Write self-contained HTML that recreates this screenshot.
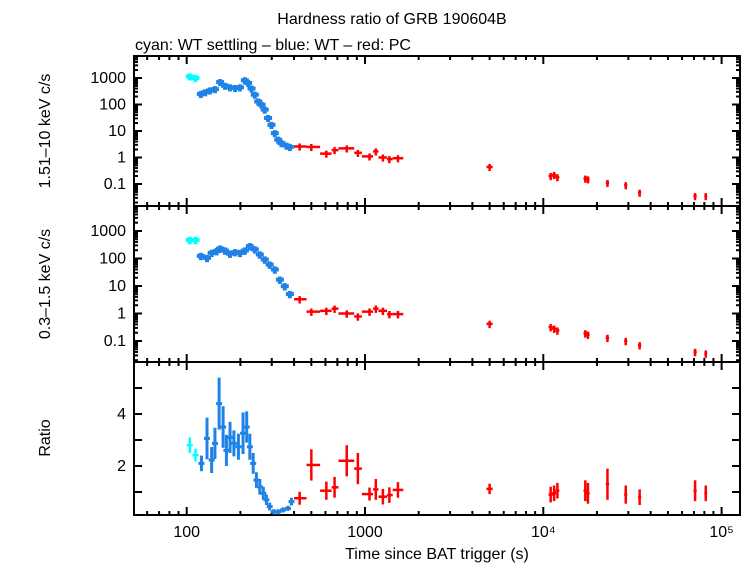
<!DOCTYPE html>
<html><head><meta charset="utf-8"><style>
body{margin:0;background:#fff;}
svg{display:block;font-family:"Liberation Sans",sans-serif;}
</style></head><body>
<svg id="c" width="752" height="566" xmlns="http://www.w3.org/2000/svg">
<text x="392" y="24" font-size="16" text-anchor="middle">Hardness ratio of GRB 190604B</text>
<text x="135" y="50" font-size="16">cyan: WT settling – blue: WT – red: PC</text>
<text transform="translate(50,131) rotate(-90)" font-size="16" text-anchor="middle">1.51–10 keV c/s</text>
<text transform="translate(50,284) rotate(-90)" font-size="16" text-anchor="middle">0.3–1.5 keV c/s</text>
<text transform="translate(50,438) rotate(-90)" font-size="16" text-anchor="middle">Ratio</text>
<text x="437" y="559" font-size="16" text-anchor="middle">Time since BAT trigger (s)</text>
<g id="g"></g>
</svg>
<script>
// ---- data ----
const cyanT = [104, 112];
const cyanHard = [1150, 1000];
const cyanSoft = [470, 470];
const cyanRatio = [2.8, 2.42];
const cyanRatioErr = [0.3, 0.25];

const blueT1 = [120,127,135,144,154,164,175,187,199,212,221,231,241,252,263,274,286,299,312,326,340,363,379];
const blueHard = [250,290,340,380,700,510,445,420,445,820,650,400,235,130,98,64,31,17,8.3,4.7,3.5,2.8,2.5];
const blueT2 = [120,130,138,147,154,164,175,187,199,212,226,241,257,274,292,312,333,355,379];
const blueSoft = [124,105,160,185,230,195,150,170,160,195,280,215,140,92,60,40,17,9.8,5.1];
const blueT3 = [121,130,138,144,152,160,167,175,184,195,207,217,226,236,246,257,269,280,292,308,326,347,370,387];
const blueRatio = [2.1,3.06,2.23,2.87,4.4,3.5,2.6,3.1,2.87,2.74,3.26,3.5,2.74,2.1,1.46,1.2,0.95,0.7,0.44,0.24,0.24,0.31,0.37,0.63];
const blueRatioErr = [0.3,0.8,0.5,0.6,1.0,0.8,0.6,0.6,0.5,0.5,0.8,0.6,0.5,0.4,0.3,0.3,0.25,0.2,0.15,0.1,0.1,0.1,0.1,0.15];

const redT = [430,500,607,675,790,912,1060,1150,1260,1370,1530,5000,11000,11500,12000,17200,17800,22900,29000,34700,71000,81500];
const redTlo = [400,470,560,650,710,870,960,1110,1190,1330,1430,4800,10700,11200,11700,16800,17400,22400,28400,34000,69500,80000];
const redThi = [470,560,650,710,870,960,1110,1190,1330,1430,1640,5200,11300,11800,12300,17600,18200,23400,29600,35400,72500,83000];
const redHard = [2.6,2.5,1.4,1.9,2.2,1.5,1.1,1.7,1.0,0.87,0.94,0.44,0.2,0.22,0.18,0.16,0.15,0.11,0.09,0.047,0.035,0.035];
const redSoft = [3.3,1.17,1.25,1.5,1.0,0.78,1.17,1.5,1.25,0.95,0.95,0.42,0.32,0.28,0.24,0.19,0.17,0.13,0.10,0.07,0.04,0.035];
const redRatio = [0.76,2.04,1.05,1.18,2.2,1.9,0.92,1.1,0.82,0.88,1.08,1.12,0.9,0.95,1.05,1.05,0.95,1.3,0.9,0.8,1.05,0.95];
const redRatioErr = [0.25,0.6,0.35,0.4,0.6,0.6,0.25,0.4,0.3,0.3,0.3,0.2,0.3,0.3,0.3,0.4,0.4,0.6,0.35,0.3,0.4,0.3];
const rateFracErr = [0.3];

const xTickLabels = ["100","1000","10⁴","10⁵"];
const logTickLabels = ["1000","100","10","1","0.1"];
const ratioTickLabels = ["2","4"];

// ---- axes ----
const L=134,R=740;
const xs = t => 186.7 + (Math.log10(t)-2)*178.3;
const panels = [
  {top:56,bot:206,log:true,y:v=>78+(3-Math.log10(v))*26.5},
  {top:206,bot:362,log:true,y:v=>231+(3-Math.log10(v))*27.5},
  {top:362,bot:515,log:false,y:v=>518-v*26}
];
const g=document.getElementById('g');
const NS='http://www.w3.org/2000/svg';
function el(tag,attrs,parent){const e=document.createElementNS(NS,tag);for(const k in attrs)e.setAttribute(k,attrs[k]);(parent||g).appendChild(e);return e;}

panels.forEach((p,pi)=>{
  const fr=el('rect',{x:L,y:p.top,width:R-L,height:p.bot-p.top,fill:'none',stroke:'#000','stroke-width':2});
  
  
  for(let d=1;d<=5;d++){for(let m=1;m<10;m++){
    const t=m*Math.pow(10,d);const x=xs(t);if(x<L||x>R)continue;
    const len=m===1?8:4;
    const a=el('line',{x1:x,x2:x,y1:p.bot,y2:p.bot-len,stroke:'#000','stroke-width':2});
    
    
    const b=el('line',{x1:x,x2:x,y1:p.top,y2:p.top+len,stroke:'#000','stroke-width':2});
    
    
  }}
  if(p.log){
    for(let d=-2;d<=4;d++){for(let m=1;m<10;m++){
      const v=m*Math.pow(10,d);const y=p.y(v);if(y<p.top||y>p.bot)continue;
      const len=m===1?8:4;
      const a=el('line',{x1:L,x2:L+len,y1:y,y2:y,stroke:'#000','stroke-width':2});
      
      
      const b=el('line',{x1:R,x2:R-len,y1:y,y2:y,stroke:'#000','stroke-width':2});
      
      
    }}
    logTickLabels.forEach(s=>{
      const t=el('text',{x:L-8,y:p.y(parseFloat(s))+5,'font-size':16,'text-anchor':'end'});
      t.textContent=s;
      
      
    });
  } else {
    for(let v=1;v<=5;v++){const y=p.y(v);
      const a=el('line',{x1:L,x2:L+8,y1:y,y2:y,stroke:'#000','stroke-width':2});
      
      
      const b=el('line',{x1:R,x2:R-8,y1:y,y2:y,stroke:'#000','stroke-width':2});
      
      
    }
    ratioTickLabels.forEach(s=>{
      const t=el('text',{x:L-8,y:p.y(parseFloat(s))+5,'font-size':16,'text-anchor':'end'});
      t.textContent=s;
      
      
    });
  }
});
xTickLabels.forEach((s,i)=>{
  const t=el('text',{x:xs(Math.pow(10,i+2)),y:537,'font-size':16,'text-anchor':'middle'});
  t.textContent=s;
  
  
});

function cross(x1,x2,xc,y1,y2,yc,col,w,name){
  const a=el('line',{x1:x1,x2:x2,y1:yc,y2:yc,stroke:col,'stroke-width':w});
  
  
  const b=el('line',{x1:xc,x2:xc,y1:y1,y2:y2,stroke:col,'stroke-width':w});
  
  
}
const f=rateFracErr[0];
function ratePts(ts,vs,p,col,name,wd){
  ts.forEach((t,i)=>{const x=xs(t),y=p.y(vs[i]);
    cross(x-wd,x+wd,x,p.y(vs[i]*(1+f)),p.y(vs[i]*(1-f)),y,col,4,name);});
}
const BLUE='#1e82e6',CYAN='#00ffff',RED='#ff0000';
ratePts(cyanT,cyanHard,panels[0],CYAN,'cyan-hard-point',4);
ratePts(cyanT,cyanSoft,panels[1],CYAN,'cyan-soft-point',4);
ratePts(blueT1,blueHard,panels[0],BLUE,'blue-hard-point',4);
ratePts(blueT2,blueSoft,panels[1],BLUE,'blue-soft-point',4);
redT.forEach((t,i)=>{
  [[redHard,0,'red-hard-point'],[redSoft,1,'red-soft-point']].forEach(([arr,pi,n])=>{
    const p=panels[pi],v=arr[i];
    cross(xs(redTlo[i]),xs(redThi[i]),xs(t),p.y(v*(1+f)),p.y(v*(1-f)),p.y(v),RED,2.5,n);
  });
  const p=panels[2];
  cross(xs(redTlo[i]),xs(redThi[i]),xs(t),p.y(redRatio[i]+redRatioErr[i]),p.y(Math.max(0.12,redRatio[i]-redRatioErr[i])),p.y(redRatio[i]),RED,2.5,'red-ratio-point');
});
cyanT.forEach((t,i)=>{const p=panels[2],x=xs(t);
  cross(x-3,x+3,x,p.y(cyanRatio[i]+cyanRatioErr[i]),p.y(cyanRatio[i]-cyanRatioErr[i]),p.y(cyanRatio[i]),CYAN,2.5,'cyan-ratio-point');});
blueT3.forEach((t,i)=>{const p=panels[2],x=xs(t);
  cross(x-3,x+3,x,p.y(blueRatio[i]+blueRatioErr[i]),p.y(Math.max(0.12,blueRatio[i]-blueRatioErr[i])),p.y(blueRatio[i]),BLUE,3,'blue-ratio-point');});
</script>
</body></html>
